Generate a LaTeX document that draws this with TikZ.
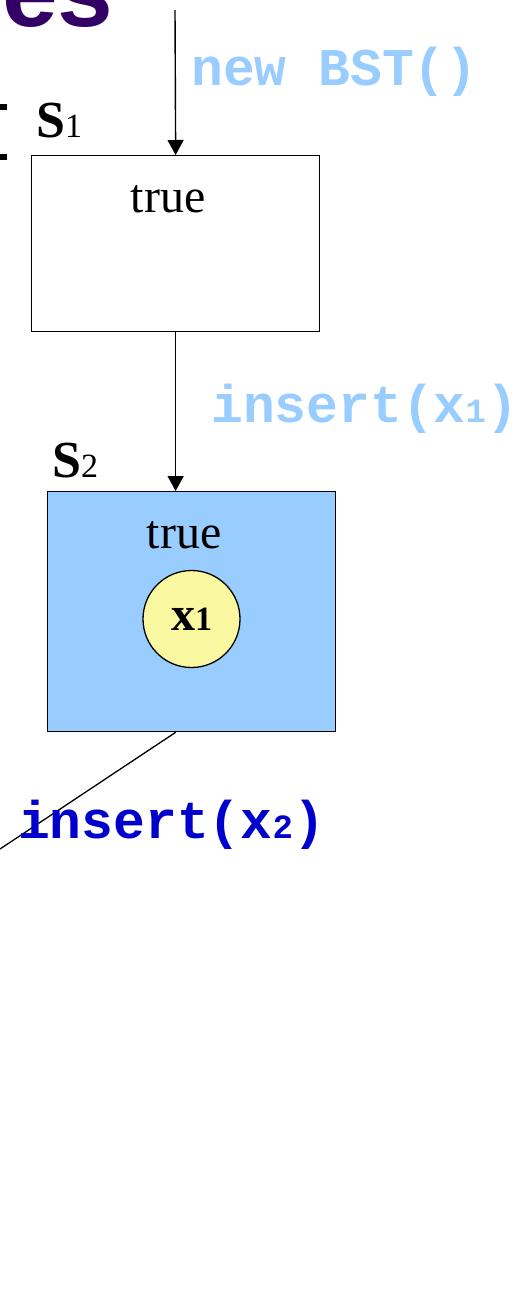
\documentclass[tikz,border=0pt]{standalone}
\usepackage{fontspec}
\setmainfont{Liberation Serif}
\setsansfont{Liberation Sans}
\setmonofont{Liberation Mono}
\usetikzlibrary{arrows.meta}
\definecolor{lblue}{HTML}{99CCFF}
\definecolor{dblue}{HTML}{0000CC}
\definecolor{purp}{HTML}{330066}
\definecolor{pyellow}{HTML}{FAF8A0}
\tikzset{
  statebox/.style={draw=black, line width=1.3pt, rectangle, inner sep=0pt, anchor=north west},
  arr/.style={draw=black, line width=1.4pt, -{Triangle[length=15pt,width=16pt]}},
  plain/.style={draw=black, line width=1.3pt},
  truetext/.style={anchor=base, inner sep=0pt, font=\fontsize{48}{48}\selectfont},
  slabel/.style={anchor=base west, inner sep=0pt, font=\fontsize{52}{52}\selectfont\bfseries},
  codetext/.style={anchor=base west, inner sep=0pt, font=\ttfamily\bfseries\fontsize{53}{53}\selectfont},
  elem/.style={draw=black, line width=1.3pt, circle, fill=pyellow, minimum size=97pt, inner sep=0pt, font=\fontsize{48}{48}\selectfont\bfseries}
}
\newcommand{\smalldigit}[1]{{\fontsize{34}{34}\selectfont #1}}
\begin{document}
\begin{tikzpicture}[x=1pt,y=-1pt]
\useasboundingbox (0,0) rectangle (518,1310);
\begin{scope}
\clip (0,0) rectangle (518,1310);
% title fragment
\node[anchor=base west, inner sep=0pt, text=purp, font=\sffamily\bfseries\fontsize{100}{100}\selectfont] (title) at (2,26) {es};
% left edge fragments
\fill[black] (0,104) rectangle (7,110);
\fill[black] (0,154) rectangle (7,160);
% states
\node[statebox, fill=white, minimum width=288pt, minimum height=176pt] (s1) at (31,155) {};
\node[statebox, fill=lblue, minimum width=288pt, minimum height=240pt] (s2) at (47,491) {};
\node[truetext] (t1) at (168,212) {true};
\node[truetext] (t2) at (184,548) {true};
\node[elem] (x1) at (191.5,619) {x\smalldigit{1}};
\node[slabel] (l1) at (36,137) {S\smalldigit{\mdseries 1}};
\node[slabel] (l2) at (52,477) {S\smalldigit{\mdseries 2}};
% labels
\node[codetext, text=lblue] (c1) at (191,85) {new BST()};
\node[codetext, text=lblue] (c2) at (211,422) {insert(x\smalldigit{1})};
% connectors
\coordinate (top) at (175,10);
\coordinate (out) at (0,849);
\draw[arr] (top) -- (s1.north);
\draw[arr] (s1.south) -- (s1.south |- s2.north);
\draw[plain] (s1.south |- s2.south) -- (out);
\node[codetext, text=dblue] (c3) at (18,838) {insert(x\smalldigit{2})};
\end{scope}
\end{tikzpicture}
\end{document}
